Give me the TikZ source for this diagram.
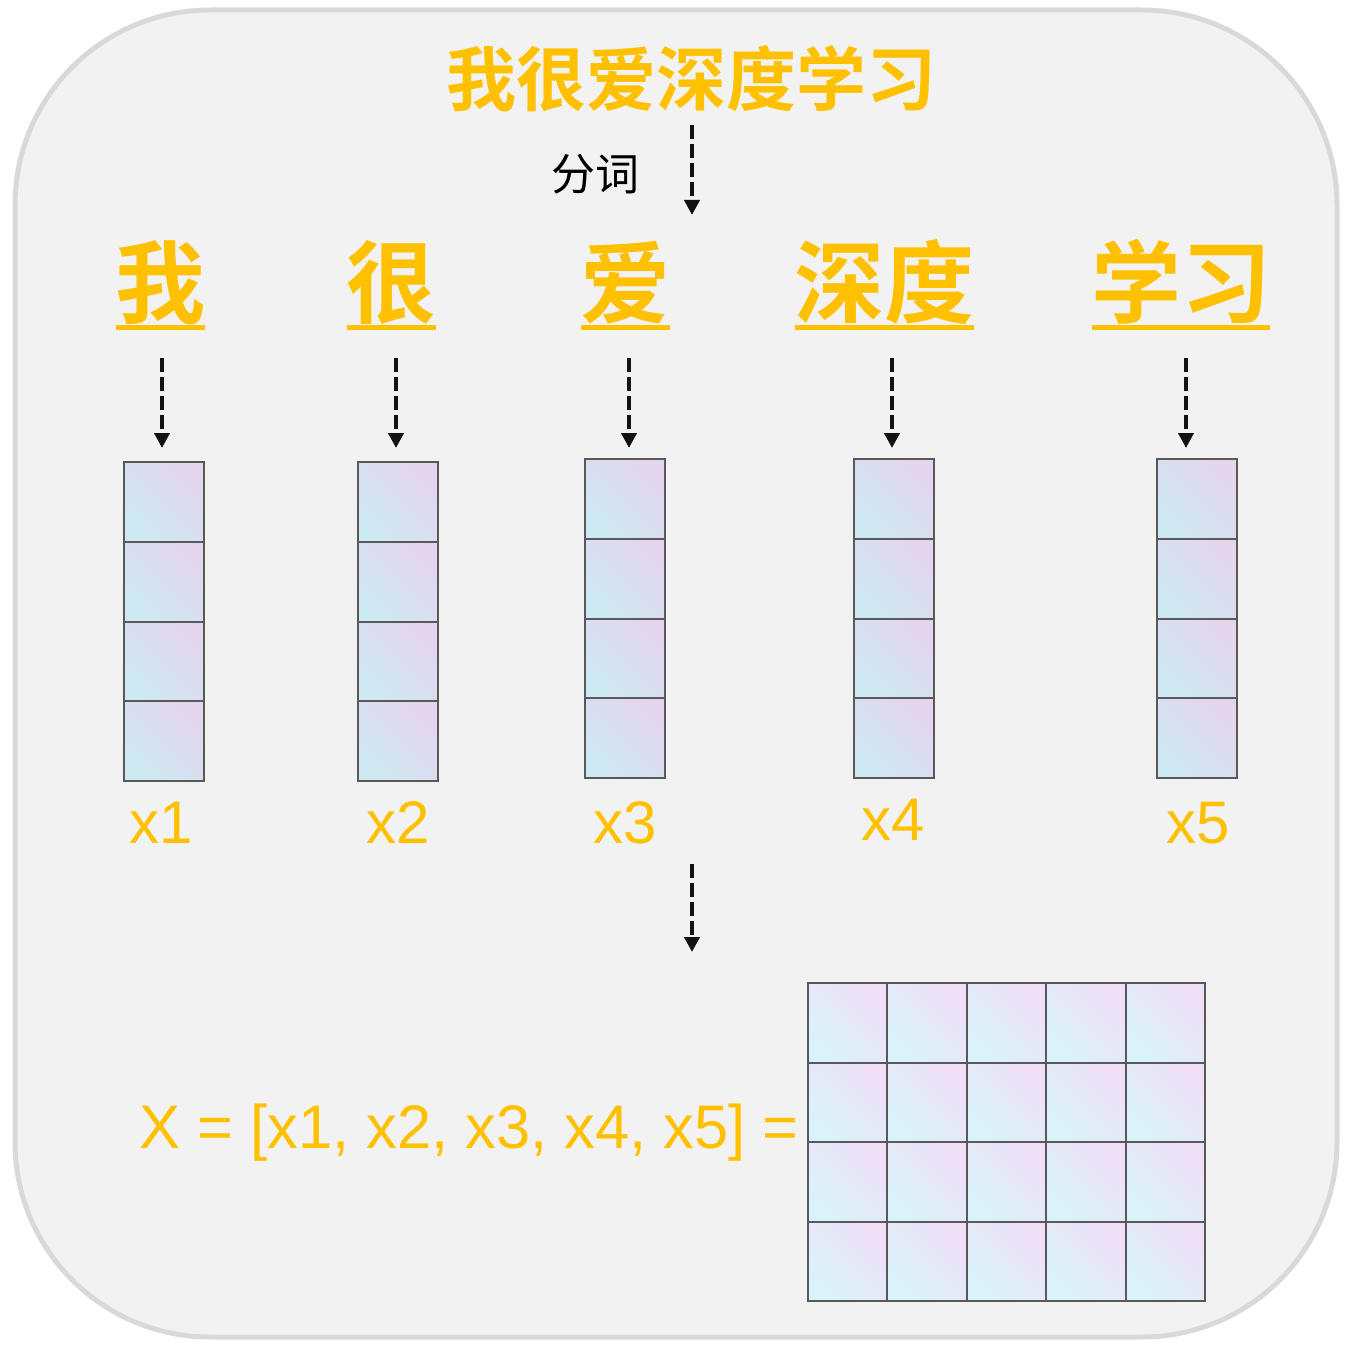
\documentclass[tikz,border=0pt]{standalone}
\usepackage{fontspec}
\setmainfont{Liberation Sans}
\newfontfamily\cjk{Noto Sans CJK SC}
\newfontfamily\cjkb{Noto Sans CJK SC Bold}
\usetikzlibrary{arrows.meta}
\definecolor{gold}{HTML}{FFC000}
\definecolor{bgfill}{HTML}{F2F2F2}
\definecolor{bgline}{HTML}{D9D9D9}
\definecolor{cellline}{HTML}{595959}
\definecolor{vcyan}{HTML}{CDE9F1}
\definecolor{vlav}{HTML}{E4D4EE}
\definecolor{mcyan}{HTML}{D9F3FA}
\definecolor{mlav}{HTML}{F0DFF7}
\tikzset{
  titletext/.style={font=\cjkb\fontsize{70}{84}\selectfont, text=gold, inner sep=0pt, anchor=base},
  segtext/.style={font=\cjk\fontsize{44}{52}\selectfont, text=black, inner sep=0pt, anchor=base},
  wordtext/.style={font=\cjkb\fontsize{90}{108}\selectfont, text=gold, inner sep=0pt, anchor=base},
  lbl/.style={font=\fontsize{60}{72}\selectfont, text=gold, inner sep=0pt, anchor=base},
  uline/.style={draw=gold, line width=5pt},
  flow/.style={draw=black!93, line width=4.6pt, dash pattern=on 14pt off 5pt, -{Triangle[width=15pt,length=15pt]}},
  vcell/.style={draw=cellline, line width=2pt, minimum width=80pt, minimum height=79.8pt, inner sep=0pt,
     left color=vcyan, right color=vlav, shading angle=135},
  mcell/.style={draw=cellline, line width=2pt, minimum width=79.4pt, minimum height=79.5pt, inner sep=0pt,
     left color=mcyan, right color=mlav, shading angle=135},
  frame/.style={draw=bgline, fill=bgfill, line width=5pt, rounded corners=195pt}
}
\begin{document}
\begin{tikzpicture}[x=1pt,y=-1pt]
\useasboundingbox (0,0) rectangle (1353,1348);
\node[frame, minimum width=1322pt, minimum height=1327pt, inner sep=0pt] (bg) at (676,673.5) {};

% title and segmentation
\node[titletext] (title) at (691,106) {我很爱深度学习};
\node[segtext] (seg) at (595,191) {分词};
\coordinate (t0) at (692,125);
\coordinate (t1) at (692,215);
\draw[flow] (t0) -- (t1);

% words
\node[wordtext] (w1) at (160.5,317) {我};
\node[wordtext] (w2) at (391.5,317) {很};
\node[wordtext] (w3) at (625.5,317) {爱};
\node[wordtext] (w4) at (884.5,317) {深度};
\node[wordtext] (w5) at (1181,317) {学习};
\foreach \i in {1,...,5}{
  \draw[uline] ([xshift=1pt,yshift=-11pt]w\i.base west) -- ([xshift=-1pt,yshift=-11pt]w\i.base east);
}

% vectors
\foreach \i/\x/\top in {1/164/462, 2/398/462, 3/625/459, 4/894/459, 5/1197/459}{
  \foreach \r in {1,...,4}{
    \node[vcell] (v\i-\r) at (\x, \top+79.8*\r-39.9) {};
  }
}

% arrows word -> vector
\foreach \i/\x in {1/162, 2/396, 3/629, 4/892, 5/1186}{
  \coordinate (a\i s) at (\x,358);
  \coordinate (a\i e) at (\x,448);
  \draw[flow] (a\i s) -- (a\i e);
}

% labels
\node[lbl] (x1) at (161.5,843) {x1};
\node[lbl] (x2) at (398,843) {x2};
\node[lbl] (x3) at (625,843) {x3};
\node[lbl] (x4) at (893,840) {x4};
\node[lbl] (x5) at (1198,843) {x5};

% bottom arrow
\coordinate (b0) at (692,864);
\coordinate (b1) at (692,952);
\draw[flow] (b0) -- (b1);

% formula
\node[lbl, font=\fontsize{61.5}{72}\selectfont, anchor=base west] (formula) at (139,1148) {X = [x1, x2, x3, x4, x5] =};

% matrix
\foreach \r in {1,...,4}{
  \foreach \c in {1,...,5}{
    \node[mcell] (m\r-\c) at (808+79.4*\c-39.7, 983+79.5*\r-39.75) {};
  }
}
\end{tikzpicture}
\end{document}
